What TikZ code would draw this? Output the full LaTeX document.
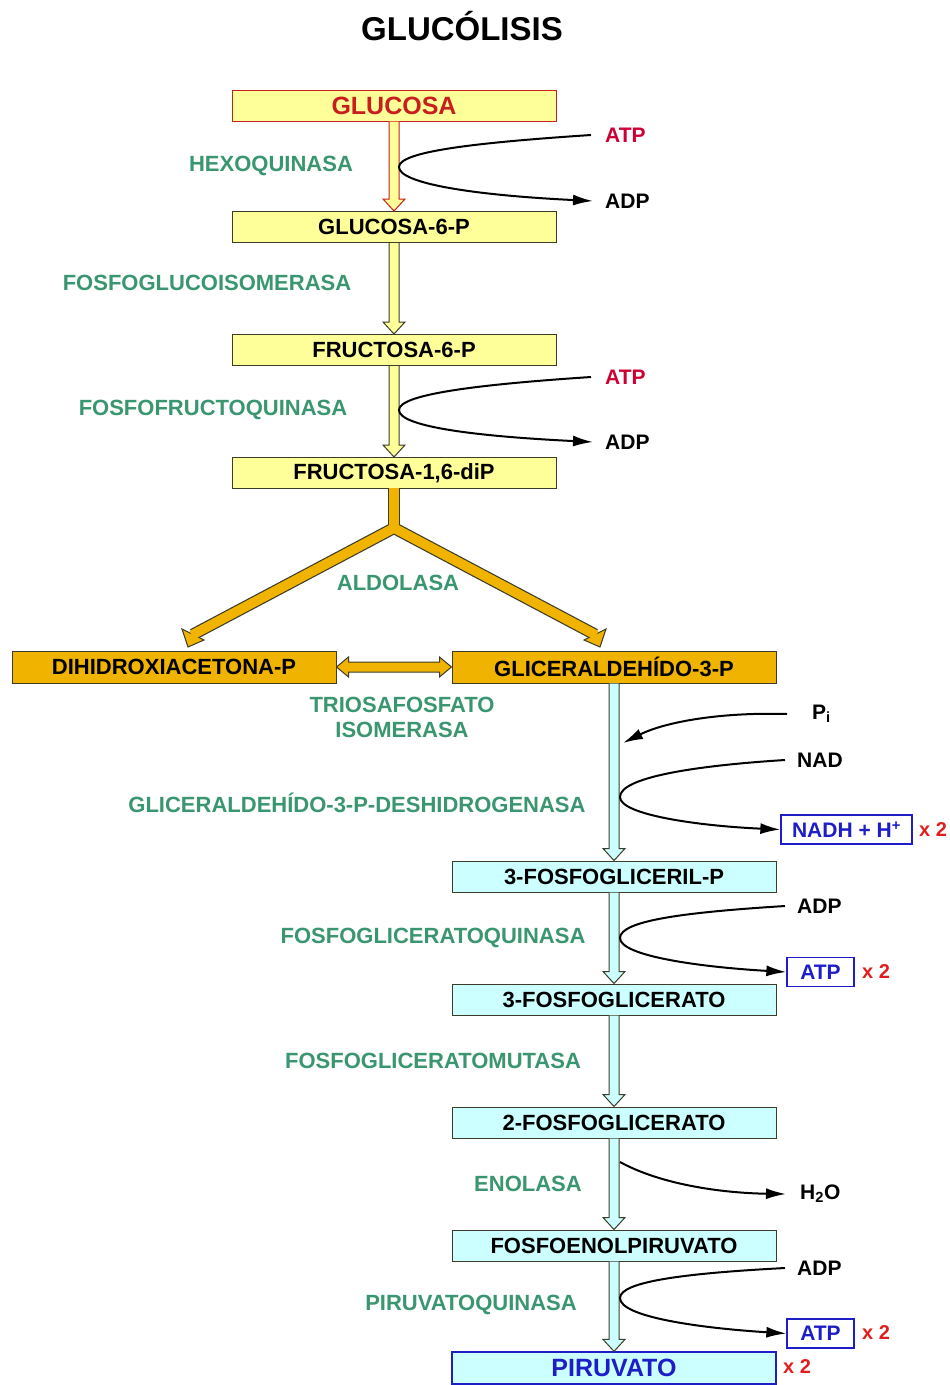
\documentclass[tikz,border=0pt]{standalone}
\usepackage{fontspec}
\setmainfont{Liberation Sans}
\usetikzlibrary{calc,arrows.meta}

\definecolor{boxyellow}{RGB}{255,255,153}
\definecolor{aldol}{RGB}{240,180,0}
\definecolor{boxcyan}{RGB}{204,255,255}
\definecolor{enzgreen}{RGB}{58,150,112}
\definecolor{glured}{RGB}{200,30,30}
\definecolor{atpred}{RGB}{204,0,51}
\definecolor{xred}{RGB}{225,30,30}
\definecolor{prodblue}{RGB}{30,30,200}
\definecolor{edgegray}{RGB}{60,60,40}

\newcommand\fsz[1]{\fontsize{#1}{#1}\selectfont\bfseries}

% vertical block arrow from the bottom of one box to the top of the next
\newcommand\downblock[4]{%
  \filldraw[fill=#3, draw=#4, line width=1pt, line join=miter]
    ($(#1.south)+(-5,0)$) -- ($(#2.north)+(-5,-12)$) -- ($(#2.north)+(-11,-12)$)
    -- (#2.north) -- ($(#2.north)+(11,-12)$) -- ($(#2.north)+(5,-12)$)
    -- ($(#1.south)+(5,0)$);}

\begin{document}
\begin{tikzpicture}[x=1pt,y=-1pt,
  metab/.style={draw=edgegray, line width=1pt, minimum width=324pt,
    minimum height=31pt, inner sep=0pt, font=\fsz{22}},
  enz/.style={text=enzgreen, font=\fsz{22}, inner sep=0pt, align=center},
  side/.style={font=\fsz{21}, anchor=west, inner sep=0pt},
  react/.style={line width=2pt, -{Latex[length=20pt,width=11pt]}},
  product/.style={draw=prodblue, line width=1.3pt, text=prodblue,
    font=\fsz{21}, inner sep=0pt, minimum height=29pt},
  times/.style={text=xred, font=\fsz{20}, anchor=west, inner sep=0pt}]

\useasboundingbox (0,0) rectangle (950,1385);
\fill[white] (0,0) rectangle (950,1385);

% title
\node[font=\fsz{33}] (title) at (462,26) {GLUCÓLISIS};

% metabolites
\node[metab, fill=boxyellow, draw=glured, text=glured, font=\fsz{25}] (glc) at (394,105.5) {GLUCOSA};
\node[metab, fill=boxyellow] (g6p) at (394,227) {GLUCOSA-6-P};
\node[metab, fill=boxyellow] (f6p) at (394,350) {FRUCTOSA-6-P};
\node[metab, fill=boxyellow] (fbp) at (394,473) {FRUCTOSA-1,6-diP};
\node[metab, fill=aldol, minimum height=32pt] (dhap) at (174,667) {DIHIDROXIACETONA-P};
\node[metab, fill=aldol, minimum height=32pt] (gap) at (614,667) {GLICERALDEHÍDO-3-P};
\node[metab, fill=boxcyan] (bpg) at (614,876.5) {3-FOSFOGLICERIL-P};
\node[metab, fill=boxcyan] (pg3) at (614,999.5) {3-FOSFOGLICERATO};
\node[metab, fill=boxcyan] (pg2) at (614,1122.5) {2-FOSFOGLICERATO};
\node[metab, fill=boxcyan] (pep) at (614,1245.5) {FOSFOENOLPIRUVATO};
\node[metab, fill=boxcyan, draw=prodblue, line width=1.3pt, text=prodblue,
      minimum height=32pt, font=\fsz{25}] (pyr) at (614,1368) {PIRUVATO};

% enzymes
\node[enz] (hk)   at (271,166)  {HEXOQUINASA};
\node[enz] (pgi)  at (207,283)  {FOSFOGLUCOISOMERASA};
\node[enz] (pfk)  at (213,410)  {FOSFOFRUCTOQUINASA};
\node[enz] (ald)  at (398,583)  {ALDOLASA};
\node[enz] (tpi)  at (402,717.5) {TRIOSAFOSFATO\\[3pt]ISOMERASA};
\node[enz] (gapdh) at (357,803) {GLICERALDEHÍDO-3-P-DESHIDROGENASA};
\node[enz] (pgk)  at (433,938)  {FOSFOGLICERATOQUINASA};
\node[enz] (pgm)  at (433,1061) {FOSFOGLICERATOMUTASA};
\node[enz] (eno)  at (528,1184) {ENOLASA};
\node[enz] (pk)   at (471,1305) {PIRUVATOQUINASA};

% cofactors
\node[side, text=atpred] (atp1) at (605,135) {ATP};
\node[side] (adp1) at (605,201) {ADP};
\node[side, text=atpred] (atp2) at (605,377) {ATP};
\node[side] (adp2) at (605,442) {ADP};
\node[side] (pi)   at (812,714) {P\textsubscript{i}};
\node[side] (nad)  at (797,760) {NAD};
\node[product, minimum width=131pt] (nadh) at (846.5,829.5) {NADH + H\textsuperscript{+}};
\node[times] (x1) at (919,830) {x 2};
\node[side] (adp3) at (797,906) {ADP};
\node[product, minimum width=67pt] (atp3) at (820.5,972) {ATP};
\node[times] (x2) at (862,972) {x 2};
\node[side] (h2o)  at (800,1194) {H\textsubscript{2}O};
\node[side] (adp4) at (797,1268) {ADP};
\node[product, minimum width=67pt] (atp4) at (820.5,1333.5) {ATP};
\node[times] (x3) at (862,1333) {x 2};
\node[times] (x4) at (783,1367) {x 2};

% main pathway arrows
\downblock{glc}{g6p}{boxyellow}{glured}
\downblock{g6p}{f6p}{boxyellow}{edgegray}
\downblock{f6p}{fbp}{boxyellow}{edgegray}
\downblock{gap}{bpg}{boxcyan}{edgegray}
\downblock{bpg}{pg3}{boxcyan}{edgegray}
\downblock{pg3}{pg2}{boxcyan}{edgegray}
\downblock{pg2}{pep}{boxcyan}{edgegray}
\downblock{pep}{pyr}{boxcyan}{edgegray}

% aldolase split into the two trioses
\coordinate (split) at (394,528);
\coordinate (lmid) at (193,634.5);
\coordinate (rmid) at (595,634.5);
\coordinate (lin) at ($(lmid)!-1.5pt!(split)$);
\coordinate (rin) at ($(rmid)!-1.5pt!(split)$);
\draw[line width=12pt, edgegray, line join=miter] (lmid) -- (split) -- (rmid);
\draw[line width=12pt, edgegray] (fbp.south) -- (split);
\filldraw[fill=aldol, draw=edgegray, line width=1pt, line join=miter]
  (188,647) -- (182,629) -- (204,640) -- cycle;
\filldraw[fill=aldol, draw=edgegray, line width=1pt, line join=miter]
  (600,647) -- (606,629) -- (584,640) -- cycle;
\draw[line width=9.6pt, aldol, line join=miter] (lin) -- (split) -- (rin);
\draw[line width=9.6pt, aldol] ([yshift=1pt]fbp.south) -- (split);

% triose phosphate isomerase: two-way block arrow
\filldraw[fill=aldol, draw=edgegray, line width=1pt, line join=miter]
  (dhap.east) -- ($(dhap.east)+(12,-10)$) -- ($(dhap.east)+(12,-5)$)
  -- ($(gap.west)+(-12,-5)$) -- ($(gap.west)+(-12,-10)$) -- (gap.west)
  -- ($(gap.west)+(-12,10)$) -- ($(gap.west)+(-12,5)$)
  -- ($(dhap.east)+(12,5)$) -- ($(dhap.east)+(12,10)$) -- cycle;

% side reactions
\coordinate (v1) at (399,167);
\draw[react] ([xshift=-14pt]atp1.west) .. controls (470,143) and (399,152) .. (v1)
  .. controls (399,183) and (470,195) .. ([xshift=-12pt]adp1.west);
\coordinate (v2) at (399,410);
\draw[react] ([xshift=-14pt]atp2.west) .. controls (470,385) and (399,395) .. (v2)
  .. controls (399,426) and (470,436) .. ([xshift=-12pt]adp2.west);
\coordinate (pin) at (623,743);
\draw[react] ([xshift=-25pt]pi.west) .. controls (720,712) and (665,722) .. (pin);
\coordinate (v4) at (620,797);
\draw[react] ([xshift=-12pt]nad.west) .. controls (690,766) and (620,778) .. (v4)
  .. controls (620,815) and (700,826) .. (nadh.west);
\coordinate (v5) at (620,938);
\draw[react] ([xshift=-12pt]adp3.west) .. controls (690,912) and (620,920) .. (v5)
  .. controls (620,956) and (700,967) .. (atp3.west);
\coordinate (v6) at (620,1162);
\draw[react] (v6) .. controls (660,1184) and (720,1193) .. ([xshift=-14pt]h2o.west);
\coordinate (v7) at (620,1298);
\draw[react] ([xshift=-12pt]adp4.west) .. controls (690,1273) and (620,1281) .. (v7)
  .. controls (620,1317) and (700,1328) .. (atp4.west);

\end{tikzpicture}
\end{document}
